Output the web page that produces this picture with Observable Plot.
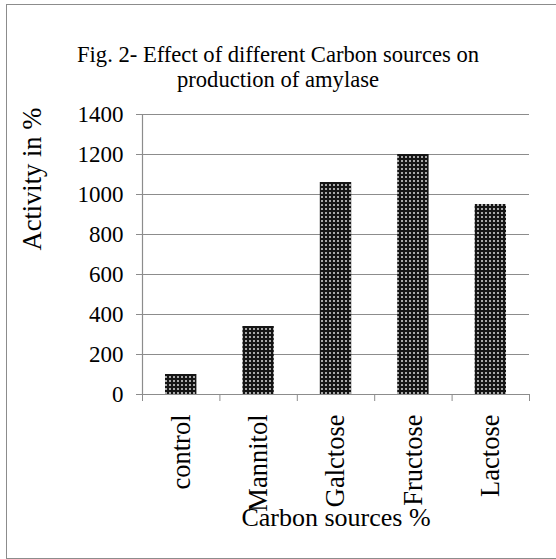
<!DOCTYPE html>
<html>
<head>
<meta charset="utf-8">
<script src="https://cdn.jsdelivr.net/npm/d3@7"></script>
<script src="https://cdn.jsdelivr.net/npm/@observablehq/plot@0.6"></script>
<style>
  html, body { margin: 0; padding: 0; background: #fff; overflow: hidden; }
  #wrap { position: relative; width: 556px; height: 559px; overflow: hidden; font-family: "Liberation Serif", "Times New Roman", serif; }
  #border { position: absolute; left: 6px; top: 4px; width: 600px; height: 555px; border: 1px solid #8c8c8c; box-sizing: border-box; }
  #title { position: relative; height: 95px; box-sizing: border-box; padding-top: 42px; text-align: center; font-size: 22.6px; line-height: 25px; color: #000; }
  #chart { position: relative; }
  #chart svg { display: block; }
</style>
</head>
<body>
<div id="wrap">
  <div id="border"></div>
  <div id="title">Fig. 2- Effect of different Carbon sources on<br>production of amylase</div>
  <div id="chart"></div>
</div>
<script>
const categories = ["control", "Mannitol", "Galctose", "Fructose", "Lactose"];
const activity = [100, 340, 1060, 1200, 950];
const yTicks = [0, 200, 400, 600, 800, 1000, 1200, 1400];
const yTitle = "Activity in %";
const xTitle = "Carbon sources %";

const data = categories.map((c, i) => ({category: c, index: i, activity: activity[i]}));
const grey = "#8c8c8c";

const chart = Plot.plot({
  width: 556,
  height: 464,
  marginLeft: 142,
  marginRight: 27,
  marginTop: 19,
  marginBottom: 165,
  style: {fontFamily: '"Liberation Serif", "Times New Roman", serif', fontSize: "23px", color: "#000", background: "transparent", overflow: "visible"},
  x: {type: "linear", domain: [0, categories.length], axis: null},
  y: {domain: [0, 1400], axis: null},
  marks: [
    Plot.gridY(yTicks, {stroke: grey, strokeOpacity: 1, strokeWidth: 1.2}),
    Plot.rectY(data, {x1: d => d.index, x2: d => d.index + 1, y: "activity", insetLeft: 23, insetRight: 23, fill: "url(#dots)"}),
    Plot.ruleY([0], {stroke: grey, strokeWidth: 1.2}),
    Plot.ruleX([0], {stroke: grey, strokeWidth: 1.2}),
    Plot.axisY({ticks: yTicks, tickSize: 6, tickPadding: 13, tickFormat: d => String(d), fontSize: 23, stroke: grey, fill: "#000", label: null}),
    Plot.axisX({ticks: d3.range(categories.length + 1), tickSize: 7, tickFormat: () => "", stroke: grey, label: null}),
    Plot.axisX({ticks: data.map(d => d.index + 0.5), tickSize: 0, tickPadding: 20, tickRotate: -90, tickFormat: v => categories[Math.floor(v)], fontSize: 26.5, fill: "#000", label: null}),
    Plot.text([yTitle], {frameAnchor: "left", rotate: -90, dx: -110, dy: -4, fontSize: 26.5, fill: "#000"}),
    Plot.text([xTitle], {frameAnchor: "bottom", dy: 131, fontSize: 26, fill: "#000"})
  ]
});

const svg = d3.select(chart);
const defs = svg.insert("defs", ":first-child");
const pat = defs.append("pattern").attr("id", "dots").attr("patternUnits", "userSpaceOnUse").attr("width", 4).attr("height", 4);
pat.append("rect").attr("width", 4).attr("height", 4).attr("fill", "#151515");
pat.append("rect").attr("x", 1).attr("y", 1).attr("width", 2).attr("height", 2).attr("fill", "#a8a8a8");

document.getElementById("chart").appendChild(chart);
</script>
</body>
</html>
